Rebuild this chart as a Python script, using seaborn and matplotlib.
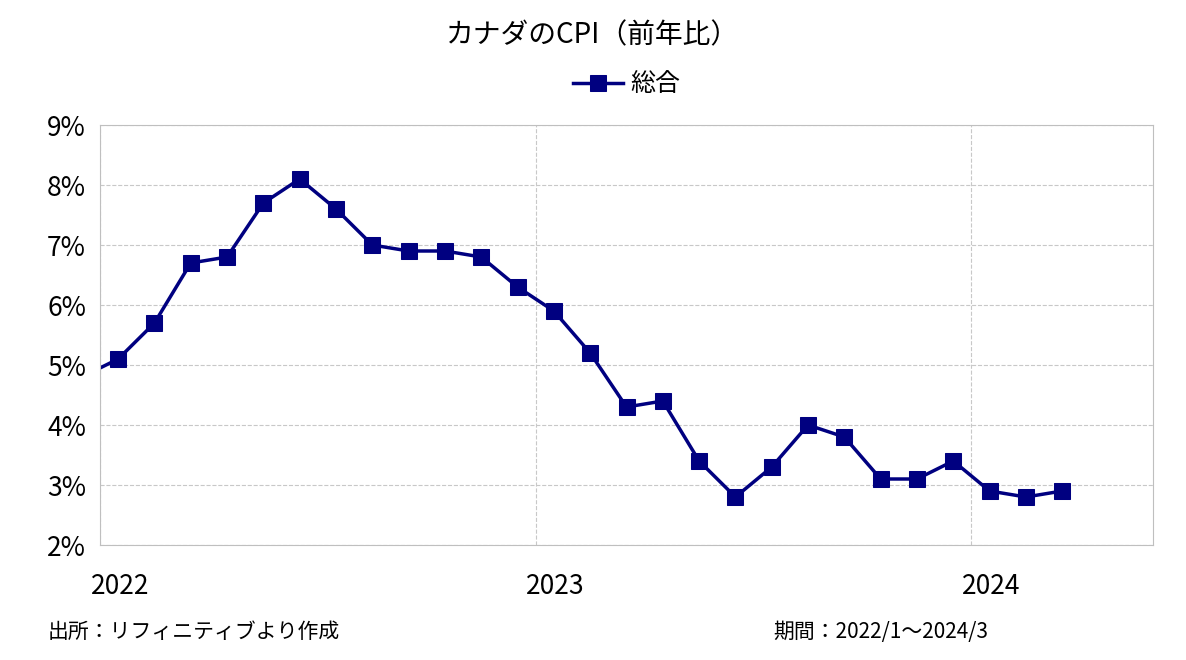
import matplotlib
matplotlib.use("Agg")
import matplotlib.pyplot as plt
import seaborn as sns
import pandas as pd

months = list(range(-1, 27))  # -1 = 2021/12, 0 = 2022/1
cpi = [4.8, 5.1, 5.7, 6.7, 6.8, 7.7, 8.1, 7.6, 7.0, 6.9, 6.9, 6.8, 6.3,
       5.9, 5.2, 4.3, 4.4, 3.4, 2.8, 3.3, 4.0, 3.8, 3.1, 3.1, 3.4,
       2.9, 2.8, 2.9]
year_ticks = [0, 12, 24]
year_labels = ["2022", "2023", "2024"]
y_ticks = [2, 3, 4, 5, 6, 7, 8, 9]

plt.rcParams["font.family"] = "Noto Sans CJK JP"
df = pd.DataFrame({"x": [m + 0.5 for m in months], "y": cpi})

fig = plt.figure(figsize=(11.86, 6.60), dpi=100)
ax = fig.add_axes([100/1186, 1-545/660, (1153-100)/1186, (545-125)/660])
color = "#000080"
sns.lineplot(data=df, x="x", y="y", ax=ax, color=color, lw=2.5, marker="s",
             markersize=12, markeredgecolor=color, label="総合")
ax.set_xlim(0, 29)
ax.set_ylim(2, 9)
ax.set_xticks(year_ticks)
ax.set_xticklabels([])
ax.set_xticks([t + 0.55 for t in year_ticks], minor=True)
ax.set_xticklabels(year_labels, minor=True, fontsize=19)
ax.set_yticks(y_ticks)
ax.set_yticklabels([f"{v}%" for v in y_ticks], fontsize=19)
ax.tick_params(which="both", length=0, pad=10)
ax.tick_params(axis="x", which="both", pad=20)
ax.set_xlabel(""); ax.set_ylabel("")
ax.grid(True, which="major", color="#c8c8c8", ls="--", lw=0.8)
for s in ax.spines.values():
    s.set_color("#bfbfbf")
ax.legend(loc="lower center", bbox_to_anchor=(0.5, 1.03), frameon=False,
          fontsize=18, handlelength=2, handletextpad=0.3, borderaxespad=0.2)
fig.text(0.5, 1-35/660, "カナダのCPI（前年比）", ha="center", va="center", fontsize=20)
fig.text(48/1186, 1-632/660, "出所：リフィニティブより作成", ha="left", va="center", fontsize=15)
fig.text(773/1186, 1-632/660, "期間：2022/1～2024/3", ha="left", va="center", fontsize=15)
fig.savefig("out.png", dpi=100)
